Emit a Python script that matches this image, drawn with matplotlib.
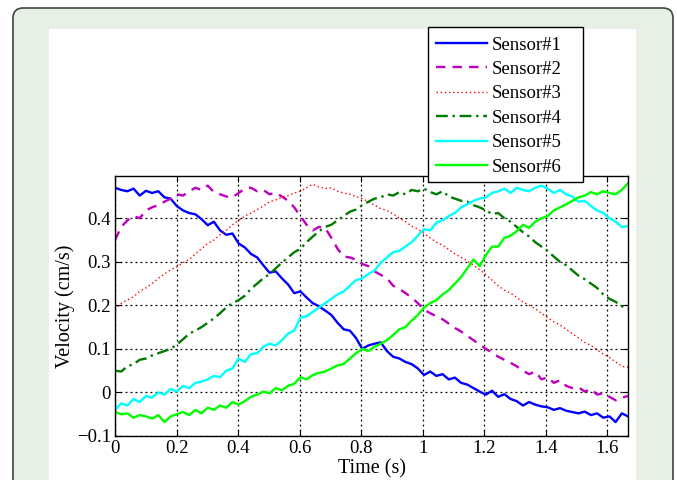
import matplotlib
matplotlib.use("Agg")
import matplotlib.pyplot as plt
import numpy as np
from matplotlib.patches import FancyBboxPatch, Rectangle

# time grid and sensor readings (cm/s)
t = np.linspace(0, 1.667, 84)

sensor1 = [0.470, 0.465, 0.462, 0.468, 0.452, 0.463, 0.458, 0.462, 0.448, 0.445,
           0.428, 0.418, 0.412, 0.409, 0.398, 0.384, 0.392, 0.372, 0.362, 0.365,
           0.342, 0.333, 0.318, 0.310, 0.292, 0.275, 0.278, 0.262, 0.248, 0.228,
           0.232, 0.218, 0.205, 0.198, 0.188, 0.178, 0.160, 0.145, 0.142, 0.125,
           0.100, 0.108, 0.112, 0.115, 0.095, 0.082, 0.078, 0.070, 0.065, 0.055,
           0.040, 0.048, 0.038, 0.042, 0.030, 0.034, 0.022, 0.018, 0.010, 0.002,
           -0.005, 0.004, -0.010, -0.004, -0.015, -0.020, -0.030, -0.022, -0.028, -0.032,
           -0.034, -0.040, -0.036, -0.042, -0.045, -0.048, -0.044, -0.052, -0.048, -0.058,
           -0.055, -0.068, -0.048, -0.055]
sensor2 = [0.350, 0.380, 0.395, 0.405, 0.400, 0.418, 0.425, 0.430, 0.438, 0.445,
           0.455, 0.452, 0.462, 0.470, 0.465, 0.475, 0.460, 0.455, 0.450, 0.448,
           0.458, 0.468, 0.470, 0.462, 0.465, 0.455, 0.458, 0.450, 0.440, 0.425,
           0.405, 0.385, 0.372, 0.380, 0.378, 0.355, 0.330, 0.312, 0.310, 0.305,
           0.295, 0.290, 0.278, 0.270, 0.262, 0.245, 0.238, 0.228, 0.218, 0.205,
           0.190, 0.182, 0.175, 0.168, 0.158, 0.148, 0.140, 0.130, 0.120, 0.110,
           0.100, 0.092, 0.082, 0.075, 0.068, 0.060, 0.050, 0.042, 0.048, 0.030,
           0.035, 0.022, 0.028, 0.015, 0.010, 0.012, 0.002, 0.008, -0.005, -0.002,
           -0.010, -0.018, -0.012, -0.008]
sensor3 = [0.190, 0.205, 0.212, 0.220, 0.232, 0.240, 0.250, 0.262, 0.272, 0.282,
           0.288, 0.298, 0.305, 0.318, 0.330, 0.342, 0.350, 0.362, 0.372, 0.385,
           0.395, 0.405, 0.412, 0.420, 0.428, 0.438, 0.442, 0.448, 0.452, 0.458,
           0.462, 0.470, 0.478, 0.472, 0.468, 0.470, 0.462, 0.458, 0.455, 0.450,
           0.445, 0.438, 0.430, 0.422, 0.418, 0.410, 0.400, 0.392, 0.382, 0.375,
           0.365, 0.355, 0.345, 0.338, 0.328, 0.318, 0.310, 0.302, 0.292, 0.282,
           0.270, 0.258, 0.245, 0.235, 0.228, 0.218, 0.208, 0.200, 0.192, 0.182,
           0.172, 0.162, 0.155, 0.145, 0.135, 0.125, 0.115, 0.108, 0.098, 0.088,
           0.080, 0.070, 0.060, 0.058]
sensor4 = [0.050, 0.048, 0.060, 0.065, 0.075, 0.078, 0.085, 0.090, 0.095, 0.100,
           0.110, 0.122, 0.135, 0.142, 0.150, 0.160, 0.170, 0.182, 0.195, 0.205,
           0.212, 0.222, 0.238, 0.250, 0.262, 0.272, 0.285, 0.298, 0.310, 0.322,
           0.330, 0.345, 0.358, 0.370, 0.380, 0.385, 0.395, 0.405, 0.415, 0.420,
           0.430, 0.438, 0.445, 0.448, 0.455, 0.452, 0.460, 0.455, 0.465, 0.462,
           0.468, 0.460, 0.455, 0.462, 0.450, 0.445, 0.440, 0.438, 0.430, 0.425,
           0.418, 0.410, 0.412, 0.400, 0.392, 0.380, 0.368, 0.358, 0.345, 0.335,
           0.325, 0.312, 0.300, 0.292, 0.280, 0.268, 0.260, 0.250, 0.240, 0.225,
           0.215, 0.208, 0.198, 0.192]
sensor5 = [-0.040, -0.025, -0.030, -0.015, -0.022, -0.008, -0.012, 0.000, -0.005, 0.008,
           0.002, 0.015, 0.010, 0.022, 0.025, 0.030, 0.038, 0.035, 0.050, 0.055,
           0.078, 0.070, 0.088, 0.090, 0.105, 0.112, 0.108, 0.120, 0.135, 0.142,
           0.172, 0.175, 0.185, 0.195, 0.205, 0.215, 0.225, 0.232, 0.245, 0.258,
           0.262, 0.272, 0.280, 0.298, 0.310, 0.322, 0.325, 0.335, 0.345, 0.360,
           0.375, 0.372, 0.390, 0.395, 0.405, 0.412, 0.425, 0.432, 0.440, 0.445,
           0.448, 0.458, 0.462, 0.468, 0.458, 0.470, 0.465, 0.462, 0.470, 0.475,
           0.468, 0.458, 0.465, 0.455, 0.450, 0.438, 0.440, 0.428, 0.418, 0.412,
           0.400, 0.392, 0.380, 0.382]
sensor6 = [-0.045, -0.050, -0.048, -0.058, -0.052, -0.055, -0.060, -0.052, -0.068, -0.055,
           -0.050, -0.045, -0.052, -0.040, -0.048, -0.035, -0.040, -0.030, -0.035, -0.022,
           -0.028, -0.020, -0.010, -0.005, 0.002, -0.002, 0.010, 0.005, 0.015, 0.020,
           0.035, 0.030, 0.040, 0.045, 0.048, 0.055, 0.062, 0.065, 0.078, 0.090,
           0.100, 0.095, 0.105, 0.112, 0.120, 0.132, 0.145, 0.150, 0.165, 0.178,
           0.195, 0.205, 0.212, 0.225, 0.235, 0.250, 0.265, 0.285, 0.305, 0.290,
           0.315, 0.335, 0.335, 0.355, 0.360, 0.370, 0.385, 0.378, 0.392, 0.400,
           0.405, 0.418, 0.425, 0.432, 0.440, 0.448, 0.452, 0.460, 0.455, 0.462,
           0.458, 0.455, 0.465, 0.480]

labels = ["Sensor#1", "Sensor#2", "Sensor#3", "Sensor#4", "Sensor#5", "Sensor#6"]
xticks = [0, 0.2, 0.4, 0.6, 0.8, 1.0, 1.2, 1.4, 1.6]
xticklabels = ["0", "0.2", "0.4", "0.6", "0.8", "1", "1.2", "1.4", "1.6"]
yticks = [-0.1, 0, 0.1, 0.2, 0.3, 0.4]
yticklabels = ["\u22120.1", "0", "0.1", "0.2", "0.3", "0.4"]

plt.rcParams["font.family"] = ["Liberation Serif", "DejaVu Serif"]
plt.rcParams["font.size"] = 13

W, H = 677, 480
fig = plt.figure(figsize=(W / 100, H / 100), dpi=100)
fig.patch.set_facecolor("white")

# page frame behind the figure
frame = FancyBboxPatch((0.13, -0.3), 6.60, 5.02, boxstyle="round,pad=0,rounding_size=0.1",
                       transform=fig.dpi_scale_trans, facecolor="#e8f0e6",
                       edgecolor="#3c463c", linewidth=1.2, zorder=-10)
fig.patches.append(frame)
inner = Rectangle((0.49, -0.3), 5.87, 4.81, transform=fig.dpi_scale_trans,
                  facecolor="white", edgecolor="none", zorder=-9)
fig.patches.append(inner)

ax = fig.add_axes([115 / W, 44 / H, 513 / W, 260 / H])
ax.set_facecolor("white")

styles = [
    dict(color="#0000ff", linestyle="-", linewidth=1.7),
    dict(color="#bf00bf", linestyle=(0, (4, 3)), linewidth=1.7),
    dict(color="#ff0000", linestyle=(0, (1, 2)), linewidth=1.0),
    dict(color="#007a00", linestyle=(0, (5, 2, 1, 2)), linewidth=1.7),
    dict(color="#00ffff", linestyle="-", linewidth=1.7),
    dict(color="#00ff00", linestyle="-", linewidth=1.7),
]
series = [sensor1, sensor2, sensor3, sensor4, sensor5, sensor6]
handles = []
for y, lab, st in zip(series, labels, styles):
    h, = ax.plot(t, y, label=lab, **st)
    handles.append(h)

ax.set_xlim(0, 1.667)
ax.set_ylim(-0.1, 0.497)
ax.set_xticks(xticks)
ax.set_xticklabels(xticklabels)
ax.set_yticks(yticks)
ax.set_yticklabels(yticklabels)
ax.tick_params(direction="in", top=True, right=True, length=4, labelsize=13.5, pad=3)
ax.grid(True, color="black", linestyle=(0, (1.5, 2.5)), linewidth=0.9)
for s in ax.spines.values():
    s.set_linewidth(1.0)
ax.set_xlabel("Time (s)", fontsize=14.5, labelpad=1.5)
ax.set_ylabel("Velocity (cm/s)", fontsize=14.5, labelpad=1)

# legend box (MATLAB style: wide frame with room on the right)
lx0, ly0, lx1, ly1 = 428, 27, 583, 182
box = Rectangle((lx0 / W, 1 - ly1 / H), (lx1 - lx0) / W, (ly1 - ly0) / H,
                transform=fig.transFigure, facecolor="white", edgecolor="black",
                linewidth=1.0, zorder=9)
fig.patches.append(box)
leg = fig.legend(handles=handles, labels=labels, loc="upper left",
                 bbox_to_anchor=(lx0 / W, 1 - (ly0 + 1) / H), borderaxespad=0,
                 fontsize=13.5, handlelength=2.7, handletextpad=0.25, labelspacing=0.39,
                 borderpad=0.45, frameon=False)
leg.set_zorder(10)

fig.savefig("out.png", dpi=100)
